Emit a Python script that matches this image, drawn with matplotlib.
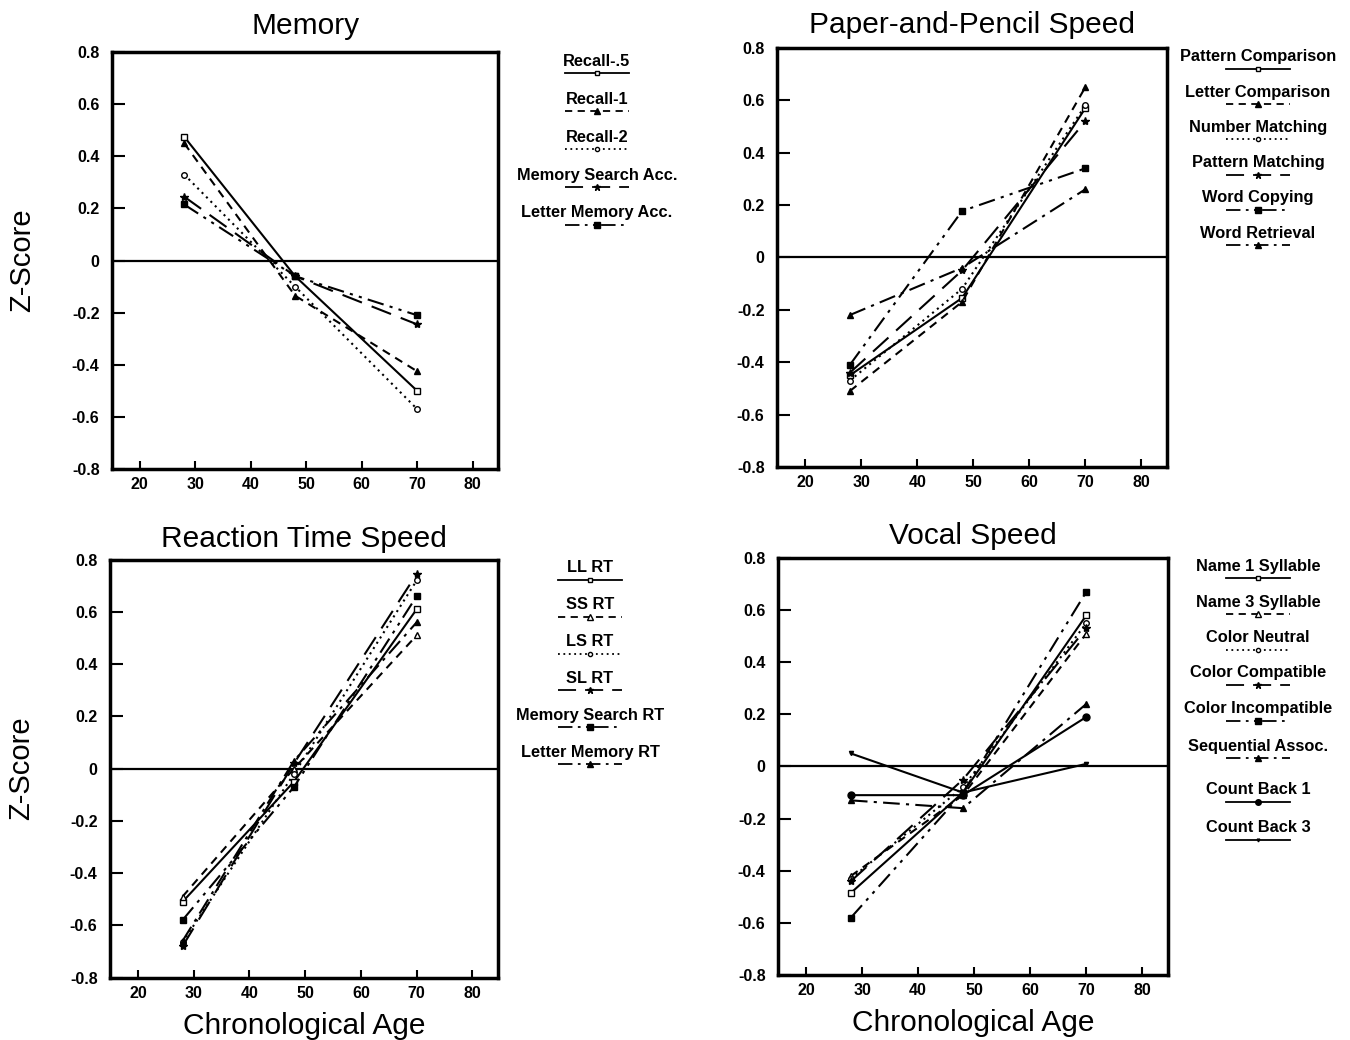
import matplotlib
matplotlib.use("Agg")
import matplotlib.pyplot as plt
from matplotlib.lines import Line2D

plt.rcParams["font.family"] = ["Liberation Sans", "DejaVu Sans"]

ages = [28, 48, 70]

memory_labels = ["Recall-.5", "Recall-1", "Recall-2", "Memory Search Acc.", "Letter Memory Acc."]
memory_values = [
    [0.475, -0.06, -0.50],
    [0.45, -0.135, -0.425],
    [0.33, -0.10, -0.57],
    [0.245, -0.06, -0.245],
    [0.215, -0.06, -0.21],
]

paper_labels = ["Pattern Comparison", "Letter Comparison", "Number Matching",
                "Pattern Matching", "Word Copying", "Word Retrieval"]
paper_values = [
    [-0.45, -0.155, 0.57],
    [-0.51, -0.17, 0.65],
    [-0.47, -0.12, 0.58],
    [-0.44, -0.05, 0.52],
    [-0.41, 0.177, 0.34],
    [-0.22, -0.04, 0.26],
]

rt_labels = ["LL RT", "SS RT", "LS RT", "SL RT", "Memory Search RT", "Letter Memory RT"]
rt_values = [
    [-0.51, -0.05, 0.61],
    [-0.49, 0.0, 0.51],
    [-0.665, -0.02, 0.72],
    [-0.68, 0.02, 0.745],
    [-0.58, -0.07, 0.66],
    [-0.66, 0.03, 0.56],
]

vocal_labels = ["Name 1 Syllable", "Name 3 Syllable", "Color Neutral", "Color Compatible",
                "Color Incompatible", "Sequential Assoc.", "Count Back 1", "Count Back 3"]
vocal_values = [
    [-0.485, -0.10, 0.58],
    [-0.42, -0.11, 0.51],
    [-0.43, -0.08, 0.55],
    [-0.44, -0.05, 0.53],
    [-0.58, -0.10, 0.67],
    [-0.13, -0.16, 0.24],
    [-0.11, -0.11, 0.19],
    [0.05, -0.10, 0.01],
]

# line style / marker per series position
styles = [
    dict(ls="-", marker="s", mfc="white", ms=4),
    dict(ls=(0, (4, 3)), marker="^", mfc="black", ms=5),
    dict(ls=(0, (1, 2)), marker="o", mfc="white", ms=4),
    dict(ls=(0, (10, 5)), marker="*", mfc="black", ms=6),
    dict(ls=(0, (8, 3, 1.5, 3, 1.5, 3)), marker="s", mfc="black", ms=5),
    dict(ls=(0, (8, 3, 1.5, 3)), marker="^", mfc="black", ms=5),
    dict(ls="-", marker="o", mfc="black", ms=5),
    dict(ls="-", marker="v", mfc="black", ms=3),
]

fig = plt.figure(figsize=(13.5, 10.4), dpi=100)


def px(x, y):
    return x / 1350, 1 - y / 1040


def panel(rect, title, title_pad, labels, values, open_tri, legend_x, legend_y, legend_dy):
    ax = fig.add_axes(rect)
    ax.axhline(0, color="black", lw=1.6, zorder=1)
    for i, vals in enumerate(values):
        st = dict(styles[i])
        if i == 1 and open_tri:
            st["mfc"] = "white"
        ax.plot(ages, vals, color="black", lw=1.5, ls=st["ls"], marker=st["marker"],
                mfc=st["mfc"], mec="black", ms=st["ms"], zorder=3)
    ax.set_xlim(15, 84.6)
    ax.set_ylim(-0.8, 0.8)
    ax.set_xticks([20, 30, 40, 50, 60, 70, 80])
    ax.set_yticks([0.8, 0.6, 0.4, 0.2, 0, -0.2, -0.4, -0.6, -0.8])
    ax.set_yticklabels(["0.8", "0.6", "0.4", "0.2", "0", "-0.2", "-0.4", "-0.6", "-0.8"])
    ax.tick_params(direction="in", width=1.5, labelsize=11.5)
    ax.tick_params(axis="y", length=9, pad=9)
    ax.tick_params(axis="x", length=6, pad=6)
    for lab in ax.get_xticklabels() + ax.get_yticklabels():
        lab.set_fontweight("bold")
    for sp in ax.spines.values():
        sp.set_linewidth(2.5)
    ax.set_title(title, fontsize=21.5, pad=title_pad)

    # hand-made legend column: label above a short line sample
    for i, lab in enumerate(labels):
        y = legend_y[i] if isinstance(legend_y, list) else legend_y + i * legend_dy
        tx, ty = px(legend_x, y)
        fig.text(tx, ty, lab, ha="center", va="center", fontsize=11.8, fontweight="bold")
        st = dict(styles[i])
        if i == 1 and open_tri:
            st["mfc"] = "white"
        x0, yl = px(legend_x - 32, y + 12)
        x1, _ = px(legend_x + 32, y + 12)
        xm, _ = px(legend_x, y + 12)
        fig.add_artist(Line2D([x0, x1], [yl, yl], color="black", lw=1.3, ls=st["ls"]))
        fig.add_artist(Line2D([xm], [yl], color="black", marker=st["marker"],
                              mfc=st["mfc"], mec="black", ms=st["ms"] - 1))
    return ax


ax1 = panel([0.083, 0.549, 0.286, 0.401], "Memory", 13, memory_labels, memory_values,
            False, 597, 61, 38)
ax2 = panel([0.5756, 0.551, 0.289, 0.403], "Paper-and-Pencil Speed", 11, paper_labels, paper_values,
            False, 1258, 57, 35.2)
ax3 = panel([0.0815, 0.060, 0.2875, 0.402], "Reaction Time Speed", 9, rt_labels, rt_values,
            True, 590, 568, 36.8)
ax4 = panel([0.5763, 0.0625, 0.289, 0.401], "Vocal Speed", 10, vocal_labels, vocal_values,
            True, 1258, [566, 602, 638, 673, 709, 746, 790, 828], 0)

for ax in (ax1, ax3):
    ax.set_ylabel("Z-Score", fontsize=21)
ax1.yaxis.set_label_coords(-0.196, 0.5)
ax3.yaxis.set_label_coords(-0.192, 0.5)
for ax in (ax3, ax4):
    ax.set_xlabel("Chronological Age", fontsize=21.5, labelpad=8)

fig.savefig("out.png", dpi=100)
